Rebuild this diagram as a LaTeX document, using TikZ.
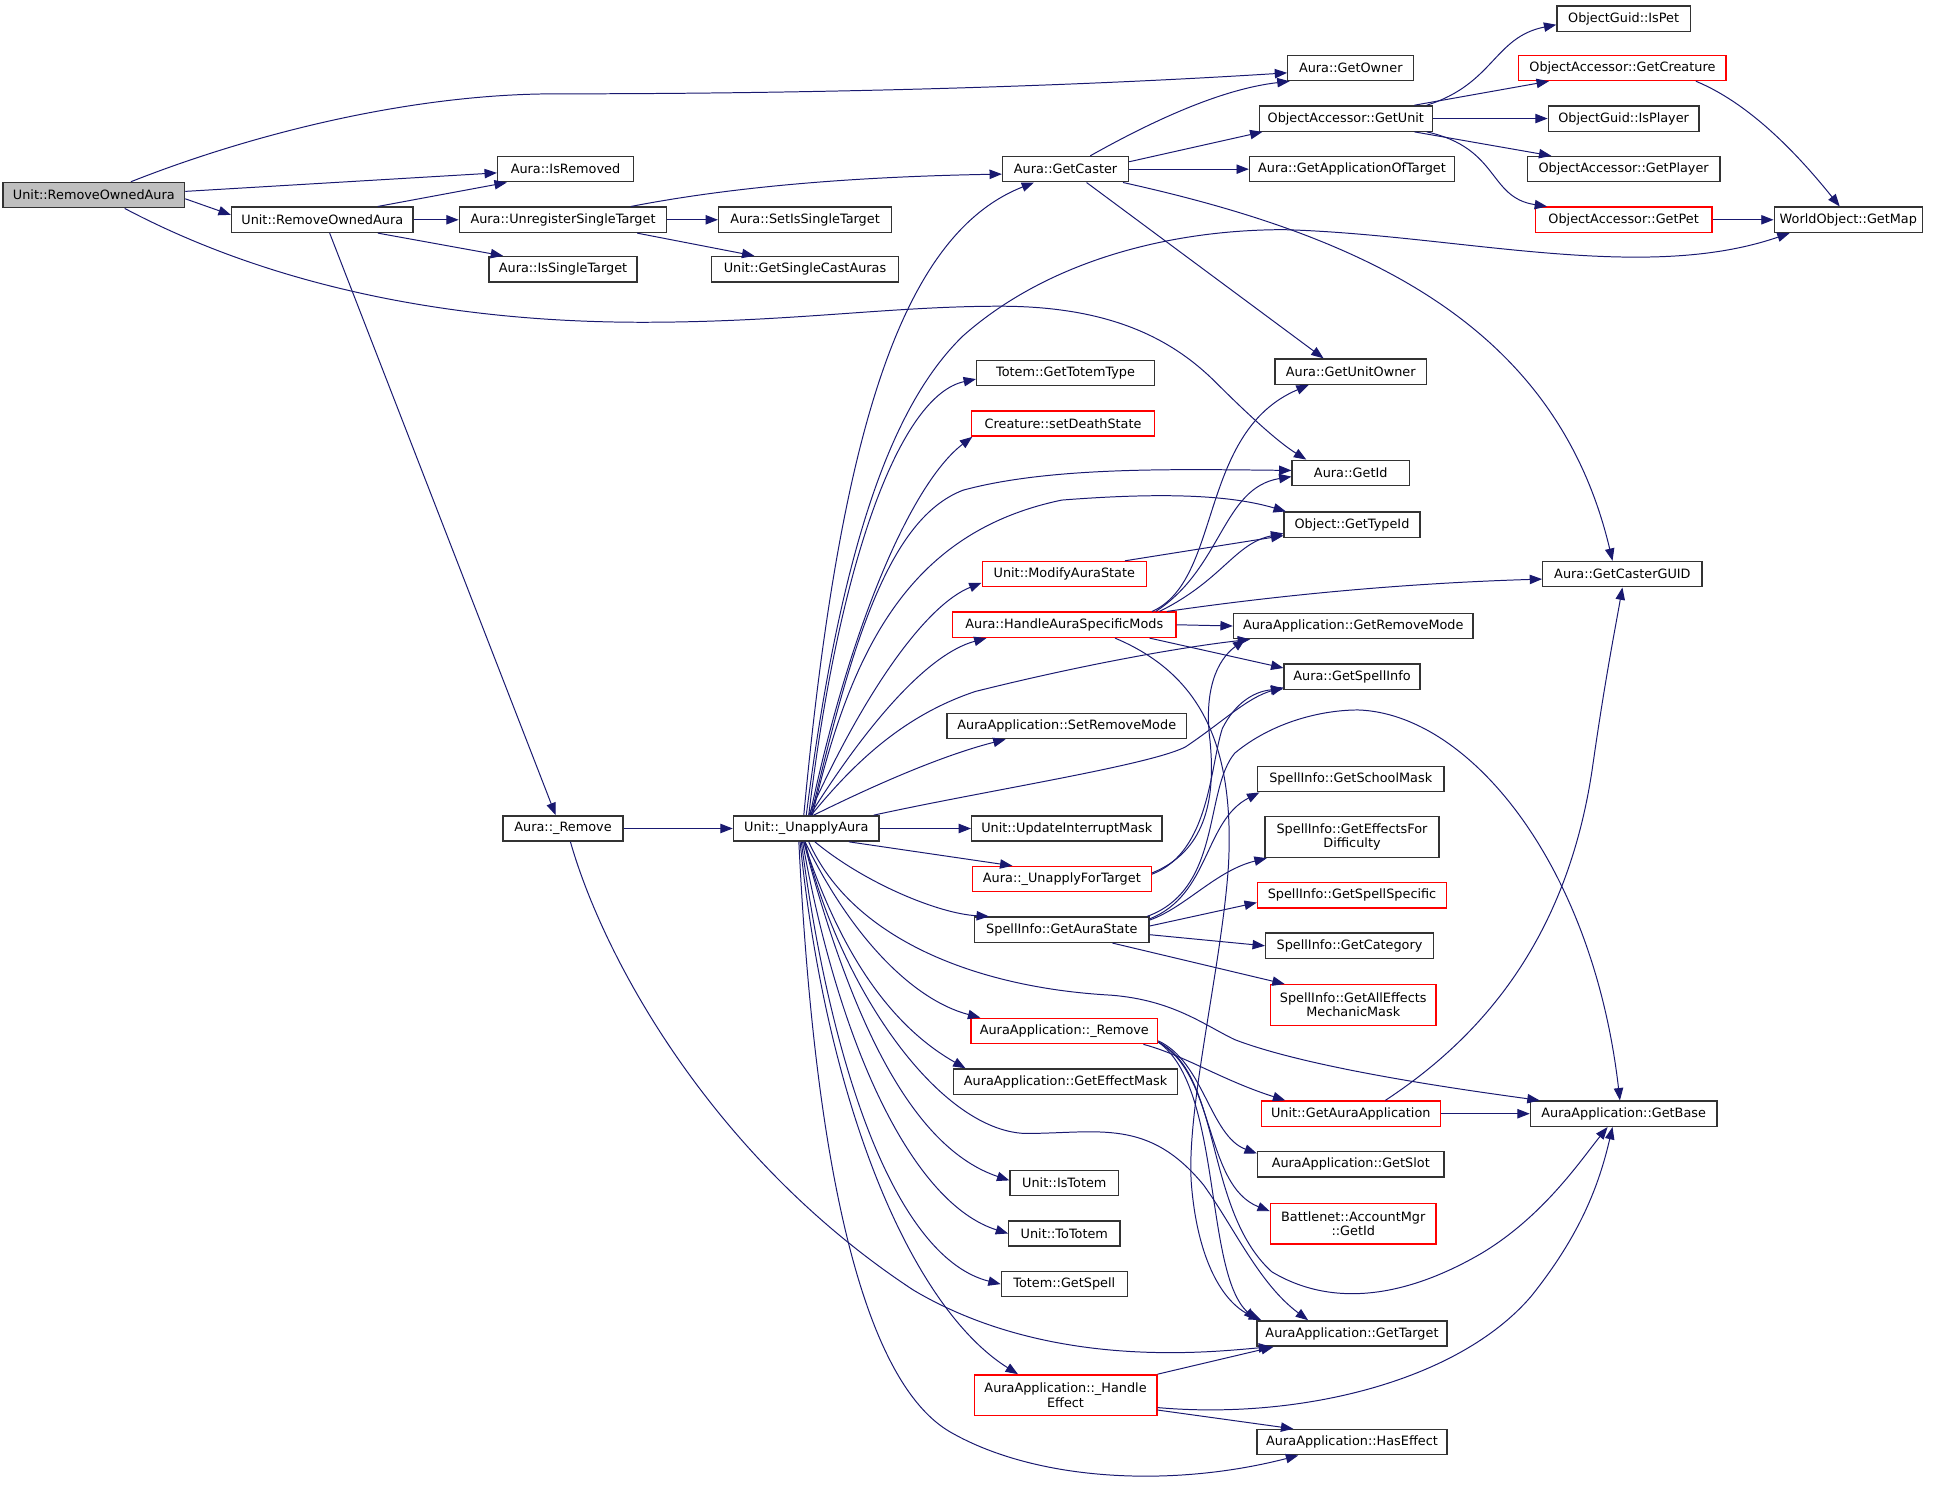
\documentclass[tikz,border=0pt]{standalone}
\usepackage{fontspec}
\setmainfont{DejaVu Sans}
\usetikzlibrary{arrows.meta,calc}
\definecolor{edgeblue}{HTML}{191970}
\definecolor{rootgray}{HTML}{BFBFBF}
\begin{document}
\begin{tikzpicture}[x=0.5pt,y=-0.5pt,
  fn/.style={draw=black!80, line width=0.55pt, fill=white, rectangle, inner sep=0pt,
    minimum height=10.25pt, font=\fontsize{5.2pt}{5.7pt}\selectfont, align=center},
  hot/.style={draw=red},
  rootfn/.style={fill=rootgray},
  two/.style={minimum height=16.5pt},
  wd/.style={minimum width=#1*0.5pt},
  call/.style={draw=edgeblue, line width=0.4pt, -{Triangle[length=5pt,width=3.8pt]}}
]
\useasboundingbox (0,0) rectangle (1568,1206);
\fill[white] (0,0) rectangle (1568,1206);

% ---------- nodes ----------
\node[fn,rootfn,wd=147] (n1) at (76,158) {Unit::RemoveOwnedAura};
\node[fn,wd=147] (rmo2) at (261,178) {Unit::RemoveOwnedAura};
\node[fn,wd=110] (isrem) at (458,137) {Aura::IsRemoved};
\node[fn,wd=168] (unreg) at (456,178) {Aura::UnregisterSingleTarget};
\node[fn,wd=120] (issingle) at (456,218) {Aura::IsSingleTarget};
\node[fn,wd=140] (setsingle) at (652,178) {Aura::SetIsSingleTarget};
\node[fn,wd=151] (getsingle) at (652,218) {Unit::GetSingleCastAuras};
\node[fn,wd=102] (getowner) at (1094,55) {Aura::GetOwner};
\node[fn,wd=102] (getcaster) at (863,137) {Aura::GetCaster};
\node[fn,wd=140] (getunit) at (1090,96) {ObjectAccessor::GetUnit};
\node[fn,wd=166] (appoftarget) at (1095,137) {Aura::GetApplicationOfTarget};
\node[fn,wd=108] (ispet) at (1315,15) {ObjectGuid::IsPet};
\node[fn,hot,wd=168] (getcreature) at (1314,55) {ObjectAccessor::GetCreature};
\node[fn,wd=122] (isplayer) at (1315,96) {ObjectGuid::IsPlayer};
\node[fn,wd=156] (getplayer) at (1315,137) {ObjectAccessor::GetPlayer};
\node[fn,hot,wd=143] (getpet) at (1315,178) {ObjectAccessor::GetPet};
\node[fn,wd=120] (getmap) at (1497,178) {WorldObject::GetMap};
\node[fn,wd=123] (unitowner) at (1094,301) {Aura::GetUnitOwner};
\node[fn,wd=144] (totemtype) at (863,302) {Totem::GetTotemType};
\node[fn,hot,wd=148] (deathstate) at (861,343) {Creature::setDeathState};
\node[fn,wd=95] (getid) at (1094,383) {Aura::GetId};
\node[fn,wd=110] (typeid) at (1095,425) {Object::GetTypeId};
\node[fn,hot,wd=133] (modify) at (862,465) {Unit::ModifyAuraState};
\node[fn,wd=129] (casterguid) at (1314,465) {Aura::GetCasterGUID};
\node[fn,hot,wd=181] (has) at (862,506) {Aura::HandleAuraSpecificMods};
\node[fn,wd=194] (removemode) at (1096,507) {AuraApplication::GetRemoveMode};
\node[fn,wd=110] (spellinfo) at (1095,548) {Aura::GetSpellInfo};
\node[fn,wd=194] (setremovemode) at (864,588) {AuraApplication::SetRemoveMode};
\node[fn,wd=151] (schoolmask) at (1094,631) {SpellInfo::GetSchoolMask};
\node[fn,wd=118] (unapply) at (653,671) {Unit::\_UnapplyAura};
\node[fn,wd=97] (auraremove) at (456,671) {Aura::\_Remove};
\node[fn,wd=154] (updint) at (864,671) {Unit::UpdateInterruptMask};
\node[fn,two,wd=141] (effectsfor) at (1095,678) {SpellInfo::GetEffectsFor\\Difficulty};
\node[fn,hot,wd=145] (unapplyfor) at (860,712) {Aura::\_UnapplyForTarget};
\node[fn,hot,wd=153] (spellspecific) at (1095,725) {SpellInfo::GetSpellSpecific};
\node[fn,wd=141] (aurastate) at (860,753) {SpellInfo::GetAuraState};
\node[fn,wd=136] (category) at (1093,766) {SpellInfo::GetCategory};
\node[fn,hot,two,wd=134] (mechmask) at (1096,814) {SpellInfo::GetAllEffects\\MechanicMask};
\node[fn,hot,wd=151] (aaremove) at (862,835) {AuraApplication::\_Remove};
\node[fn,wd=181] (effectmask) at (863,876) {AuraApplication::GetEffectMask};
\node[fn,hot,wd=145] (auraapp) at (1094,902) {Unit::GetAuraApplication};
\node[fn,wd=151] (getbase) at (1315,902) {AuraApplication::GetBase};
\node[fn,wd=151] (getslot) at (1094,943) {AuraApplication::GetSlot};
\node[fn,wd=88] (istotem) at (862,958) {Unit::IsTotem};
\node[fn,hot,two,wd=134] (battlenet) at (1096,991) {Battlenet::AccountMgr\\::GetId};
\node[fn,wd=90] (tototem) at (862,999) {Unit::ToTotem};
\node[fn,wd=102] (getspell) at (862,1040) {Totem::GetSpell};
\node[fn,wd=154] (gettarget) at (1095,1080) {AuraApplication::GetTarget};
\node[fn,hot,two,wd=148] (handleeffect) at (863,1130) {AuraApplication::\_Handle\\Effect};
\node[fn,wd=154] (haseffect) at (1095,1168) {AuraApplication::HasEffect};

% ---------- edges ----------
% root
\draw[call] ($(n1.north)+(30,0)$) .. controls (200,110) and (330,76) .. (450,76)
   .. controls (700,76) and (900,68) .. ($(getowner.west)+(0,4)$);
\draw[call] ($(n1.east)+(0,-3)$) -- ($(isrem.west)+(0,3)$);
\draw[call] ($(n1.east)+(0,3)$) -- ($(rmo2.west)+(0,-4)$);
\draw[call] ($(n1.south)+(25,0)$) .. controls (230,237) and (380,261) .. (520,261)
   .. controls (640,261) and (720,248) .. (810,248)
   .. controls (900,248) and (950,275) .. (985,310)
   .. controls (1010,335) and (1035,358) .. ($(getid.north west)+(12,0)$);
% second RemoveOwnedAura
\draw[call] ($(rmo2.north)+(45,0)$) -- ($(isrem.south west)+(8,0)$);
\draw[call] (rmo2.east) -- (unreg.west);
\draw[call] ($(rmo2.south)+(45,0)$) -- ($(issingle.north west)+(12,0)$);
\draw[call] ($(rmo2.south)+(6,0)$) -- ($(auraremove.north)+(-6,0)$);
% UnregisterSingleTarget
\draw[call] ($(unreg.north)+(55,0)$) .. controls (600,150) and (700,143) .. ($(getcaster.west)+(0,4)$);
\draw[call] (unreg.east) -- (setsingle.west);
\draw[call] ($(unreg.south)+(60,0)$) -- ($(getsingle.north west)+(35,0)$);
% GetCaster
\draw[call] ($(getcaster.north)+(20,0)$) .. controls (935,97) and (990,72) .. ($(getowner.south west)+(2,0)$);
\draw[call] ($(getcaster.east)+(0,-6)$) -- ($(getunit.south west)+(3,0)$);
\draw[call] (getcaster.east) -- (appoftarget.west);
\draw[call] ($(getcaster.south)+(17,0)$) -- ($(unitowner.north west)+(40,0)$);
\draw[call] ($(getcaster.south east)+(-5,0)$) .. controls (1100,190) and (1260,260) .. ($(casterguid.north)+(-8,0)$);
% GetUnit
\draw[call] ($(getunit.north east)+(-5,0)$) .. controls (1210,68) and (1210,30) .. ($(ispet.west)+(0,5)$);
\draw[call] ($(getunit.north east)+(-15,0)$) -- ($(getcreature.south west)+(25,0)$);
\draw[call] (getunit.east) -- (isplayer.west);
\draw[call] ($(getunit.south east)+(-15,0)$) -- ($(getplayer.north west)+(20,0)$);
\draw[call] ($(getunit.south east)+(-5,0)$) .. controls (1215,120) and (1205,160) .. ($(getpet.north west)+(10,0)$);
\draw[call] ($(getcreature.south east)+(-25,0)$) .. controls (1420,85) and (1460,130) .. ($(getmap.north)+(-7,0)$);
\draw[call] (getpet.east) -- (getmap.west);
% Aura::_Remove
\draw[call] (auraremove.east) -- (unapply.west);
\draw[call] ($(auraremove.south)+(6,0)$) .. controls (490,780) and (580,940) .. (740,1045)
   .. controls (850,1110) and (980,1095) .. ($(gettarget.south west)+(12,0)$);
% Unit::_UnapplyAura
\draw[call] ($(unapply.north)+(-2,0)$) .. controls (680,350) and (730,190) .. ($(getcaster.south west)+(26,0)$);
\draw[call] (unapply.north) .. controls (680,450) and (720,330) .. (780,272)
   .. controls (850,210) and (950,186) .. (1040,186)
   .. controls (1180,190) and (1330,230) .. ($(getmap.south west)+(13,0)$);
\draw[call] ($(unapply.north)+(2,0)$) .. controls (680,450) and (730,320) .. ($(totemtype.west)+(0,5)$);
\draw[call] ($(unapply.north)+(3,0)$) .. controls (690,500) and (740,390) .. ($(deathstate.south west)+(1,0)$);
\draw[call] ($(unapply.north)+(4,0)$) .. controls (690,520) and (720,420) .. (780,397)
   .. controls (850,378) and (950,380) .. ($(getid.west)+(0,-2)$);
\draw[call] ($(unapply.north)+(5,0)$) .. controls (690,520) and (740,430) .. (860,405)
   .. controls (950,398) and (1000,402) .. ($(typeid.north west)+(2,0)$);
\draw[call] ($(unapply.north)+(2,0)$) .. controls (700,560) and (750,490) .. ($(modify.west)+(0,7)$);
\draw[call] ($(unapply.north)+(3,0)$) .. controls (700,590) and (750,530) .. ($(has.south west)+(28,0)$);
\draw[call] ($(unapply.north)+(4,0)$) .. controls (690,620) and (730,580) .. (790,560)
   .. controls (870,540) and (950,525) .. ($(removemode.south west)+(14,0)$);
\draw[call] ($(unapply.north east)+(-5,0)$) .. controls (800,640) and (930,620) .. (960,605)
   .. controls (990,585) and (1010,565) .. ($(spellinfo.south west)+(0,-2)$);
\draw[call] ($(unapply.north)+(6,0)$) .. controls (720,630) and (770,610) .. ($(setremovemode.south west)+(48,0)$);
\draw[call] (unapply.east) -- (updint.west);
\draw[call] ($(unapply.south east)+(-25,0)$) -- ($(unapplyfor.north west)+(33,0)$);
\draw[call] ($(unapply.south)+(7,0)$) .. controls (700,715) and (760,740) .. ($(aurastate.north west)+(12,0)$);
\draw[call] ($(unapply.south)+(2,0)$) .. controls (690,760) and (790,800) .. (900,806)
   .. controls (950,810) and (975,830) .. (1000,842)
   .. controls (1060,865) and (1180,882) .. ($(getbase.north west)+(8,0)$);
\draw[call] ($(unapply.south)+(-1,0)$) .. controls (690,760) and (740,810) .. ($(aaremove.north west)+(8,0)$);
\draw[call] ($(unapply.south)+(-2,0)$) .. controls (680,770) and (720,830) .. ($(effectmask.north west)+(10,0)$);
\draw[call] ($(unapply.south)+(-1,0)$) .. controls (680,800) and (760,915) .. (830,918)
   .. controls (890,918) and (930,905) .. (975,960)
   .. controls (1000,995) and (1020,1040) .. ($(gettarget.north west)+(42,0)$);
\draw[call] ($(unapply.south)+(-2,0)$) .. controls (690,830) and (740,930) .. ($(istotem.west)+(0,-2)$);
\draw[call] ($(unapply.south)+(-3,0)$) .. controls (680,850) and (740,975) .. (tototem.west);
\draw[call] ($(unapply.south)+(-4,0)$) .. controls (675,880) and (730,1020) .. (getspell.west);
\draw[call] ($(unapply.south)+(-5,0)$) .. controls (670,900) and (740,1060) .. ($(handleeffect.north west)+(36,0)$);
\draw[call] ($(unapply.south)+(-6,0)$) .. controls (660,950) and (700,1120) .. (770,1160)
   .. controls (840,1200) and (950,1205) .. ($(haseffect.south west)+(34,0)$);
% ModifyAuraState
\draw[call] ($(modify.north east)+(-18,0)$) -- ($(typeid.south west)+(0,-2)$);
% HandleAuraSpecificMods
\draw[call] ($(has.north east)+(-20,0)$) .. controls (990,470) and (970,350) .. ($(unitowner.south west)+(28,0)$);
\draw[call] ($(has.north east)+(-17,0)$) .. controls (990,460) and (990,395) .. ($(getid.west)+(0,3)$);
\draw[call] ($(has.north east)+(-14,0)$) .. controls (990,470) and (1000,440) .. ($(typeid.west)+(0,7)$);
\draw[call] ($(has.north east)+(-8,0)$) .. controls (1050,480) and (1150,472) .. ($(casterguid.west)+(0,4)$);
\draw[call] (has.east) -- (removemode.west);
\draw[call] ($(has.south east)+(-22,0)$) -- ($(spellinfo.west)+(0,-7)$);
\draw[call] ($(has.south east)+(-50,0)$) .. controls (970,545) and (1000,600) .. (995,700)
   .. controls (990,780) and (960,900) .. (965,960)
   .. controls (970,1020) and (990,1055) .. ($(gettarget.north west)+(4,0)$);
% _UnapplyForTarget
\draw[call] ($(unapplyfor.east)+(0,-5)$) .. controls (975,690) and (985,650) .. (980,600)
   .. controls (975,560) and (985,535) .. ($(removemode.south west)+(10,0)$);
\draw[call] ($(unapplyfor.east)+(0,-4)$) .. controls (980,690) and (980,620) .. (990,590)
   .. controls (1000,570) and (1015,560) .. ($(spellinfo.south west)+(0,-1)$);
% GetAuraState
\draw[call] ($(aurastate.north east)+(0,2)$) .. controls (980,725) and (975,665) .. ($(schoolmask.south west)+(2,0)$);
\draw[call] ($(aurastate.north east)+(0,3)$) .. controls (960,735) and (985,705) .. ($(effectsfor.south west)+(2,0)$);
\draw[call] ($(aurastate.east)+(0,-3)$) -- ($(spellspecific.west)+(0,6)$);
\draw[call] ($(aurastate.east)+(0,4)$) -- (category.west);
\draw[call] ($(aurastate.south east)+(-30,0)$) -- ($(mechmask.north west)+(12,0)$);
\draw[call] ($(aurastate.north east)+(-2,0)$) .. controls (990,720) and (975,640) .. (1000,610)
   .. controls (1030,585) and (1070,575) .. (1100,575)
   .. controls (1190,578) and (1290,700) .. ($(getbase.north)+(-3,0)$);
% AuraApplication::_Remove
\draw[call] ($(aaremove.south east)+(-12,0)$) .. controls (960,855) and (990,875) .. ($(auraapp.north west)+(20,0)$);
\draw[call] ($(aaremove.east)+(0,8)$) .. controls (975,860) and (980,920) .. ($(getslot.north west)+(0,2)$);
\draw[call] ($(aaremove.east)+(0,9)$) .. controls (985,870) and (975,960) .. ($(battlenet.west)+(0,-10)$);
\draw[call] ($(aaremove.east)+(0,9)$) .. controls (990,880) and (975,1030) .. (gettarget.north west);
\draw[call] ($(aaremove.east)+(0,9)$) .. controls (990,870) and (975,980) .. (1030,1030)
   .. controls (1080,1060) and (1140,1050) .. (1200,1015)
   .. controls (1250,985) and (1280,940) .. ($(getbase.south)+(-13,0)$);
% Unit::GetAuraApplication
\draw[call] (auraapp.east) -- (getbase.west);
\draw[call] ($(auraapp.north)+(28,0)$) .. controls (1200,840) and (1270,760) .. (1290,620)
   .. controls (1300,550) and (1308,510) .. (casterguid.south);
% _HandleEffect
\draw[call] (handleeffect.north east) -- ($(gettarget.south west)+(14,0)$);
\draw[call] ($(handleeffect.east)+(0,10)$) .. controls (1050,1150) and (1180,1120) .. (1240,1050)
   .. controls (1280,1000) and (1295,960) .. ($(getbase.south)+(-9,0)$);
\draw[call] ($(handleeffect.east)+(0,12)$) -- ($(haseffect.north west)+(30,0)$);
\end{tikzpicture}
\end{document}
